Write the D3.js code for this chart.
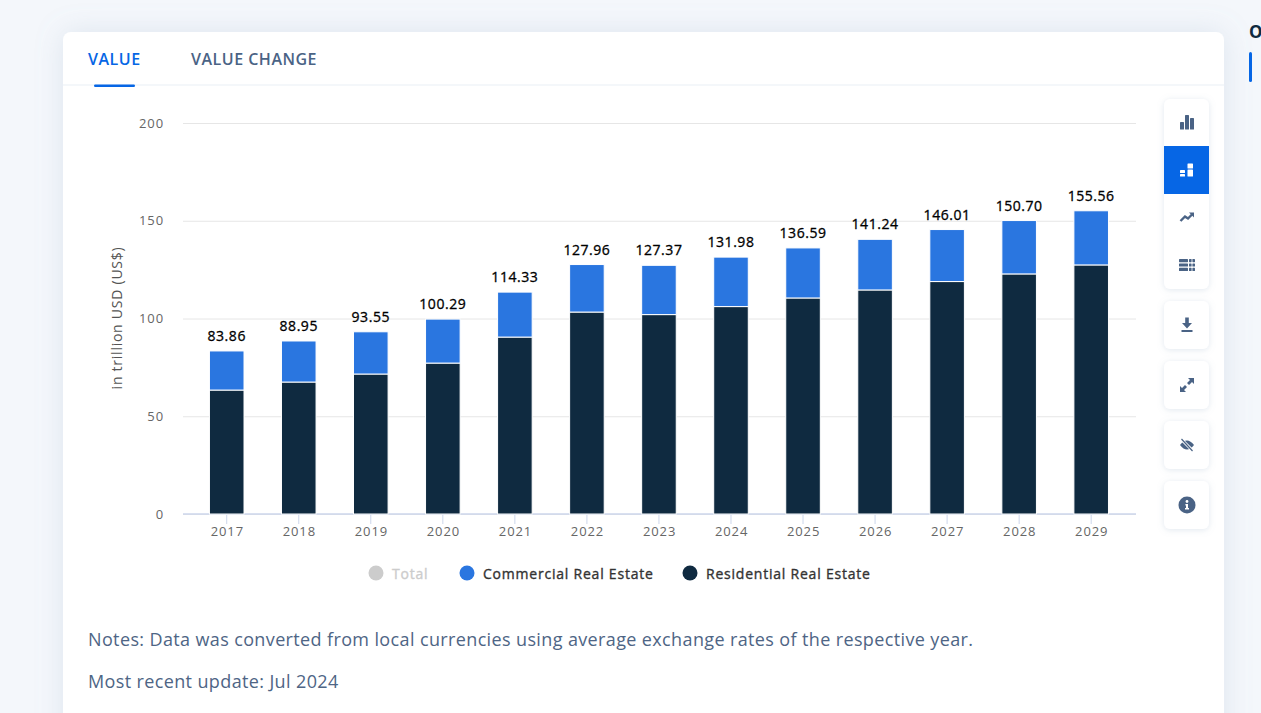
<!DOCTYPE html>
<html>
<head>
    <meta charset="utf-8">
    <style>
        html, body {
            margin: 0;
            width: 1261px;
            height: 713px;
            overflow: hidden;
            background: #f4f7fb;
            font-family: "Open Sans", sans-serif;
        }

        svg {
            display: block;
        }

        .y .tick line {
            stroke: #e6e6e6;
        }

        .x .tick line {
            stroke: #ccd6eb;
        }

        .domain {
            display: none;
        }

        .tick text {
            font-family: "Open Sans", sans-serif;
            font-size: 13px;
            letter-spacing: .9px;
            fill: #666;
        }

        .x .tick text {
            transform: translateX(.6px);
        }

        .total-label {
            font-size: 14px;
            letter-spacing: .55px;
            fill: #000;
            stroke: #000;
            stroke-width: .3px;
            text-anchor: middle;
        }

        .legend-label {
            font-size: 14px;
            letter-spacing: .78px;
            stroke-width: .35px;
        }

        .note {
            font-size: 18px;
            letter-spacing: .37px;
            fill: #4e6585;
        }

        .tab {
            font-size: 16px;
            font-weight: 600;
            letter-spacing: .5px;
        }
    </style>
</head>

<body>
    <svg width="1261" height="713"></svg>

    <script src="https://d3js.org/d3.v7.min.js"></script>
    <script>
        const years = ["2017", "2018", "2019", "2020", "2021", "2022", "2023", "2024", "2025", "2026", "2027", "2028", "2029"];
        const totals = [83.86, 88.95, 93.55, 100.29, 114.33, 127.96, 127.37, 131.98, 136.59, 141.24, 146.01, 150.70, 155.56];
        const residential = [63.4, 67.5, 71.6, 77.2, 90.5, 103.3, 102.0, 106.1, 110.5, 114.6, 118.9, 122.8, 127.4];
        const commercial = [20.0, 21.0, 21.6, 22.5, 23.0, 24.3, 25.2, 25.3, 25.6, 25.9, 26.6, 27.3, 27.7];
        const yTicks = [0, 50, 100, 150, 200];
        const legendNames = ["Total", "Commercial Real Estate", "Residential Real Estate"];

        const blue = "#2a76e0";
        const navy = "#0f2a40";
        const iconColor = "#4a6385";
        const active = "#0666e5";

        const svg = d3.select("svg");

        let defs = svg.append("defs");
        let shadow = defs.append("filter").attr("id", "card-shadow")
            .attr("x", "-5%").attr("y", "-5%").attr("width", "110%").attr("height", "110%");
        shadow.append("feDropShadow").attr("dx", 0).attr("dy", 0).attr("stdDeviation", 14)
            .attr("flood-color", "#8aa0bd").attr("flood-opacity", .22);
        let btnShadow = defs.append("filter").attr("id", "btn-shadow")
            .attr("x", "-30%").attr("y", "-30%").attr("width", "160%").attr("height", "160%");
        btnShadow.append("feDropShadow").attr("dx", 0).attr("dy", 1).attr("stdDeviation", 3)
            .attr("flood-color", "#8aa0bd").attr("flood-opacity", .25);

        // card
        svg.append("rect").attr("x", 63).attr("y", 32).attr("width", 1161).attr("height", 720)
            .attr("rx", 8).attr("fill", "#fff").attr("filter", "url(#card-shadow)");

        // cut off heading of the next column
        svg.append("text").attr("x", 1249).attr("y", 38).attr("font-size", 17).attr("font-weight", 700)
            .attr("fill", "#0f2a40").text("O");
        svg.append("rect").attr("x", 1249).attr("y", 52).attr("width", 3).attr("height", 30)
            .attr("rx", 1.5).attr("fill", active);

        // tabs
        svg.append("line").attr("x1", 63).attr("x2", 1224).attr("y1", 85).attr("y2", 85)
            .attr("stroke", "#f1f4f9").attr("stroke-width", 1.5);
        svg.append("text").attr("class", "tab").attr("x", 88).attr("y", 65)
            .attr("fill", active).text("VALUE");
        svg.append("text").attr("class", "tab").attr("x", 191).attr("y", 65)
            .attr("fill", "#4a6385").text("VALUE CHANGE");
        svg.append("rect").attr("x", 94).attr("y", 84.5).attr("width", 41).attr("height", 2.5)
            .attr("rx", 1.2).attr("fill", active);

        // scales
        let x = d3.scaleBand().domain(years).range([190.7, 1127.2]).paddingInner(.52).paddingOuter(.26);
        let y = d3.scaleLinear().domain([0, 200]).range([514, 123]);

        let yAxisSettings = d3.axisLeft(y)
            .tickValues(yTicks)
            .tickSize(-953)
            .tickPadding(19);

        svg.append("g")
            .attr("class", "y axis")
            .attr("transform", "translate(183,0)")
            .call(yAxisSettings)
            .call(g => g.selectAll(".tick line").attr("stroke-width", 1));

        let xAxisSettings = d3.axisBottom(x)
            .tickSize(10)
            .tickPadding(3);

        svg.append("g")
            .attr("class", "x axis")
            .attr("transform", "translate(0,514)")
            .call(xAxisSettings);

        svg.append("line").attr("x1", 183).attr("x2", 1136).attr("y1", 514).attr("y2", 514)
            .attr("stroke", "#ccd6eb").attr("stroke-width", 1.5);

        svg.append("text")
            .attr("transform", "translate(122,318) rotate(-90)")
            .attr("text-anchor", "middle")
            .attr("font-size", 14)
            .attr("letter-spacing", ".75px")
            .attr("fill", "#555")
            .text("in trillion USD (US$)");

        // bars
        svg.append("g").selectAll("rect")
            .data(years)
            .join("rect")
            .attr("x", d => x(d))
            .attr("width", x.bandwidth())
            .attr("y", (d, i) => y(residential[i]))
            .attr("height", (d, i) => y(0) - y(residential[i]))
            .attr("fill", navy)
            .attr("stroke", "#fff");

        svg.append("g").selectAll("rect")
            .data(years)
            .join("rect")
            .attr("x", d => x(d))
            .attr("width", x.bandwidth())
            .attr("y", (d, i) => y(residential[i] + commercial[i]))
            .attr("height", (d, i) => y(residential[i]) - y(residential[i] + commercial[i]))
            .attr("fill", blue)
            .attr("stroke", "#fff");

        svg.append("g").selectAll("text")
            .data(years)
            .join("text")
            .attr("class", "total-label")
            .attr("x", d => x(d) + x.bandwidth() / 2)
            .attr("y", (d, i) => y(residential[i] + commercial[i]) - 10)
            .text((d, i) => d3.format(".2f")(totals[i]));

        // legend
        let legendX = [376, 467, 690];
        let legendColors = ["#cccccc", blue, navy];
        let legend = svg.append("g").selectAll("g")
            .data(legendNames)
            .join("g")
            .attr("transform", (d, i) => `translate(${legendX[i]},573)`);
        legend.append("circle").attr("r", 7.5).attr("fill", (d, i) => legendColors[i]);
        legend.append("text")
            .attr("class", "legend-label")
            .attr("x", 16)
            .attr("y", 5.5)
            .style("fill", (d, i) => i == 0 ? "#cccccc" : "#333")
            .style("stroke", (d, i) => i == 0 ? "#cccccc" : "#333")
            .text(d => d);

        // notes
        svg.append("text").attr("class", "note").attr("x", 88).attr("y", 646)
            .text("Notes: Data was converted from local currencies using average exchange rates of the respective year.");
        svg.append("text").attr("class", "note").attr("x", 88).attr("y", 688)
            .text("Most recent update: Jul 2024");

        // side buttons
        let groups = [[1164, 99, 190], [1164, 301, 48], [1164, 361, 48], [1164, 421, 48], [1164, 481, 48]];
        svg.append("g").selectAll("rect")
            .data(groups)
            .join("rect")
            .attr("x", d => d[0]).attr("y", d => d[1])
            .attr("width", 45).attr("height", d => d[2])
            .attr("rx", 6).attr("fill", "#fff").attr("filter", "url(#btn-shadow)");
        svg.append("rect").attr("x", 1164).attr("y", 146).attr("width", 45).attr("height", 48).attr("fill", active);

        function icon(cx, cy) {
            return svg.append("g").attr("transform", `translate(${cx},${cy})`).attr("fill", iconColor);
        }
        function boxes(g, list, fill) {
            list.forEach(b => g.append("rect").attr("x", b[0]).attr("y", b[1]).attr("width", b[2]).attr("height", b[3])
                .attr("rx", .6).attr("fill", fill || iconColor));
        }

        // plain columns
        boxes(icon(1187, 123), [[-7, -1, 4, 7.5], [-2, -8, 4, 14.5], [3, -5, 4, 11.5]]);
        // stacked columns
        boxes(icon(1187, 170), [[-7, 0, 5, 3], [-7, 4, 5, 2.5], [.5, -6.5, 5.5, 5], [.5, -.5, 5.5, 7]], "#fff");
        // trend
        icon(1187, 217).append("path")
            .attr("d", "M-6.5,4 L-2,-.5 L1,1.5 L5,-2.5")
            .attr("fill", "none").attr("stroke", iconColor).attr("stroke-width", 2.4);
        icon(1187, 217).append("path").attr("d", "M2,-4.5 H7 V.5 Z");
        // table
        boxes(icon(1187, 265), [[-8, -6, 9, 3.2], [-8, -1.6, 9, 3.2], [-8, 2.8, 9, 3.2], [2, -6, 2.6, 3.2], [5.4, -6, 2.6, 3.2],
            [2, -1.6, 2.6, 3.2], [5.4, -1.6, 2.6, 3.2], [2, 2.8, 2.6, 3.2], [5.4, 2.8, 2.6, 3.2]]);
        // download
        let dl = icon(1187, 325);
        dl.append("path").attr("d", "M-1.8,-7.5 H1.8 V-2 H5 L0,3.5 L-5,-2 H-1.8 Z");
        dl.append("rect").attr("x", -5.5).attr("y", 5).attr("width", 11).attr("height", 2);
        // expand
        let ex = icon(1187, 385);
        ex.append("path").attr("d", "M1,-7 H7 V-1 L5,-3 L2,0 L0,-2 L3,-5 Z");
        ex.append("path").attr("d", "M-1,7 H-7 V1 L-5,3 L-2,0 L0,2 L-3,5 Z");
        // hide
        let eye = icon(1187, 445);
        eye.append("path").attr("d", "M-7,0 Q0,-9 7,0 Q0,9 -7,0 Z");
        eye.append("line").attr("x1", -5.5).attr("y1", -5.5).attr("x2", 5.5).attr("y2", 5.5)
            .attr("stroke", "#fff").attr("stroke-width", 3);
        eye.append("line").attr("x1", -5.5).attr("y1", -6).attr("x2", 5.5).attr("y2", 6)
            .attr("stroke", iconColor).attr("stroke-width", 1.2);
        // info
        let info = icon(1187, 505);
        info.append("circle").attr("r", 8.5);
        info.append("circle").attr("cy", -3.5).attr("r", 1.4).attr("fill", "#fff");
        info.append("path").attr("d", "M-1.6,-1 H1 V3 H2 V4.6 H-2 V3 H-1 V.5 H-1.6 Z").attr("fill", "#fff");
    </script>
</body>
</html>
